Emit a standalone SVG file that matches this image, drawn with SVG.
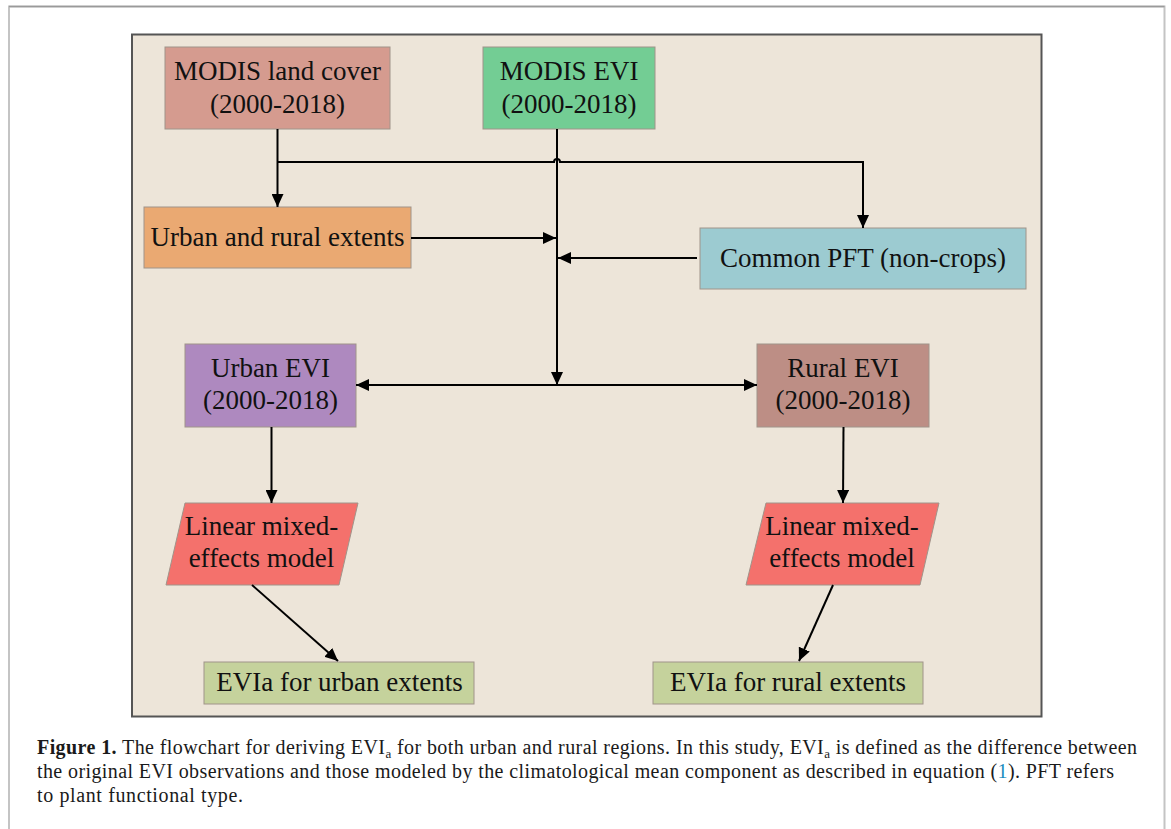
<svg xmlns="http://www.w3.org/2000/svg" width="1171" height="829" viewBox="0 0 1171 829">
<defs>
<marker id="ah" markerUnits="userSpaceOnUse" markerWidth="13" markerHeight="12" viewBox="0 0 13 12" refX="13" refY="6" orient="auto-start-reverse">
<path d="M0,0 L13,6 L0,12 z" fill="#000"/>
</marker>
<style>
.box{stroke:#a0948a;stroke-width:1}
.t{font-family:"Liberation Serif","Times New Roman",serif;font-size:27px;fill:#111;text-anchor:middle}
.c{fill:none;stroke:#000;stroke-width:2}
.cap{font-family:"Liberation Serif","Times New Roman",serif;font-size:20px;fill:#1a1a1a}
</style>
</defs>
<rect x="0" y="0" width="1171" height="829" fill="#fff"/>
<path d="M9,829 V6.5 H1164.5 V829" fill="none" stroke="#c4c4c4" stroke-width="2"/>
<line x1="9" y1="6.5" x2="1164.5" y2="6.5" stroke="#9a9a9a" stroke-width="1.5"/>
<rect x="132" y="34.5" width="909.5" height="682" fill="#ede5d9" stroke="#555" stroke-width="2"/>

<g id="modis-land-cover">
<rect class="box" x="165" y="47" width="225" height="82" fill="#d59b8f"/>
<text class="t" x="277.5" y="80">MODIS land cover</text>
<text class="t" x="277.5" y="113">(2000-2018)</text>
</g>
<g id="modis-evi">
<rect class="box" x="483" y="47" width="172" height="82" fill="#73cd94"/>
<text class="t" x="569" y="80">MODIS EVI</text>
<text class="t" x="569" y="113">(2000-2018)</text>
</g>
<g id="urban-rural-extents">
<rect class="box" x="144" y="207" width="267" height="61" fill="#eaa972"/>
<text class="t" x="277.5" y="246">Urban and rural extents</text>
</g>
<g id="common-pft">
<rect class="box" x="700" y="228" width="326" height="61" fill="#9ccbd1"/>
<text class="t" x="863" y="267">Common PFT (non-crops)</text>
</g>
<g id="urban-evi">
<rect class="box" x="185" y="344" width="171" height="83" fill="#ae89bf"/>
<text class="t" x="270.5" y="377">Urban EVI</text>
<text class="t" x="270.5" y="409">(2000-2018)</text>
</g>
<g id="rural-evi">
<rect class="box" x="757" y="344" width="172" height="83" fill="#bd8e85"/>
<text class="t" x="843" y="377">Rural EVI</text>
<text class="t" x="843" y="409">(2000-2018)</text>
</g>
<g id="urban-lme">
<polygon class="box" points="185,503 358,503 339,585 166,585" fill="#f4716c"/>
<text class="t" x="261.5" y="535">Linear mixed-</text>
<text class="t" x="261.5" y="567">effects model</text>
</g>
<g id="rural-lme">
<polygon class="box" points="766,503 939,503 920,585 746,585" fill="#f4716c"/>
<text class="t" x="842" y="535">Linear mixed-</text>
<text class="t" x="842" y="567">effects model</text>
</g>
<g id="evia-urban">
<rect class="box" x="204" y="662" width="270" height="42" fill="#c5d29c"/>
<text class="t" x="339.5" y="691">EVIa for urban extents</text>
</g>
<g id="evia-rural">
<rect class="box" x="653" y="662" width="270" height="42" fill="#c5d29c"/>
<text class="t" x="788" y="691">EVIa for rural extents</text>
</g>

<g id="connectors">
<line class="c" x1="277.5" y1="129" x2="277.5" y2="207" marker-end="url(#ah)"/>
<path class="c" d="M277.5,162 H554 A3,3 0 0 1 560,162 H863 V228" marker-end="url(#ah)"/>
<line class="c" x1="557" y1="129" x2="557" y2="385" marker-end="url(#ah)"/>
<line class="c" x1="411" y1="238" x2="556" y2="238" marker-end="url(#ah)"/>
<line class="c" x1="697" y1="258" x2="558" y2="258" marker-end="url(#ah)"/>
<line class="c" x1="356" y1="385" x2="757" y2="385" marker-start="url(#ah)" marker-end="url(#ah)"/>
<line class="c" x1="271.5" y1="427" x2="271.5" y2="503" marker-end="url(#ah)"/>
<line class="c" x1="843.5" y1="427" x2="843" y2="503" marker-end="url(#ah)"/>
<line class="c" x1="252" y1="585" x2="338" y2="661" marker-end="url(#ah)"/>
<line class="c" x1="833" y1="585" x2="799" y2="661" marker-end="url(#ah)"/>
</g>

<g id="caption">
<text class="cap" x="37" y="754" textLength="1100" lengthAdjust="spacing"><tspan font-weight="bold">Figure 1.</tspan> The flowchart for deriving EVI<tspan font-size="13" dy="4">a</tspan><tspan dy="-4"> for both urban and rural regions. In this study, EVI</tspan><tspan font-size="13" dy="4">a</tspan><tspan dy="-4"> is defined as the difference between</tspan></text>
<text class="cap" x="37" y="778" textLength="1077" lengthAdjust="spacing">the original EVI observations and those modeled by the climatological mean component as described in equation (<tspan fill="#1a8cc0">1</tspan>). PFT refers</text>
<text class="cap" x="37" y="802" textLength="206" lengthAdjust="spacing">to plant functional type.</text>
</g>
</svg>
